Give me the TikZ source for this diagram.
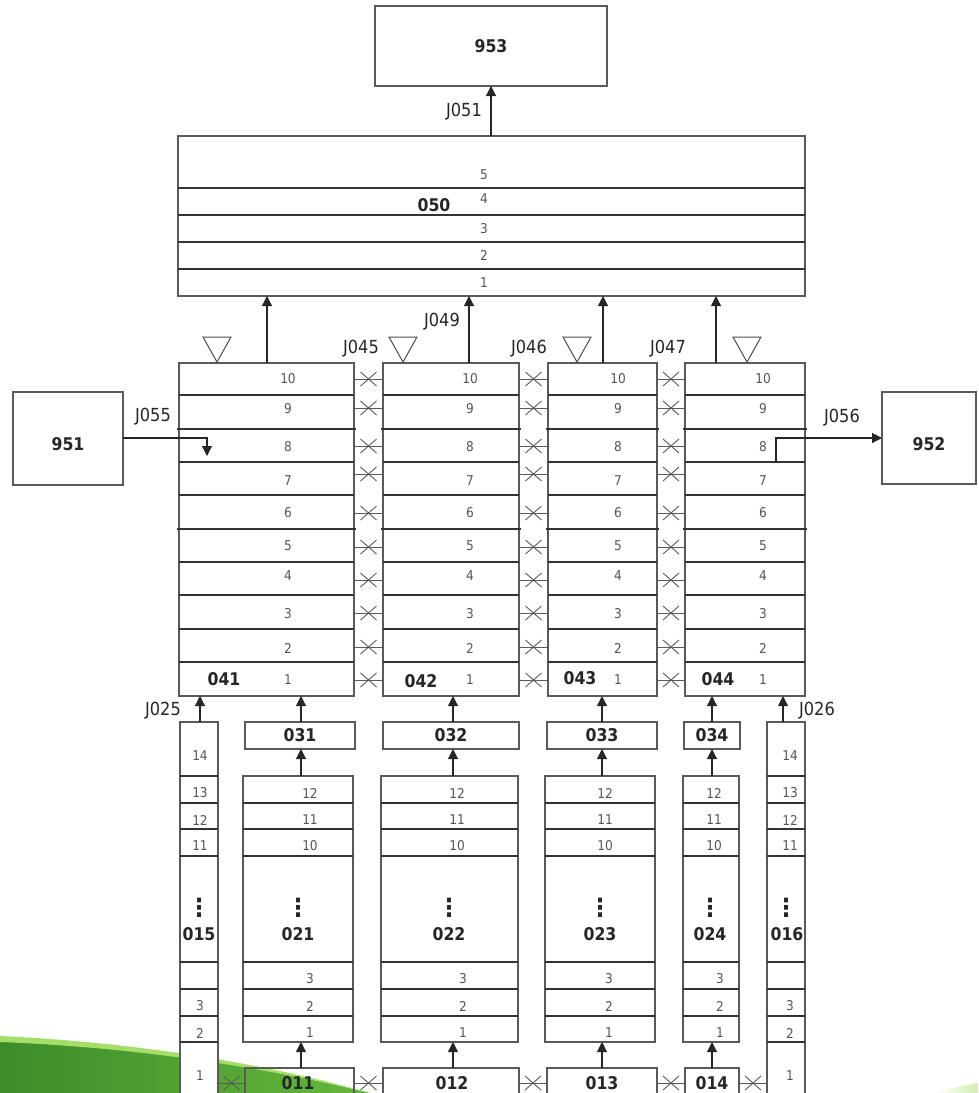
\documentclass[tikz,border=0pt]{standalone}
\usepackage{fontspec}
\setmainfont{DejaVu Sans Condensed}
\usetikzlibrary{arrows.meta}
\definecolor{lc}{HTML}{5A5A5A}
\definecolor{rc}{HTML}{333333}
\definecolor{nc}{HTML}{555555}
\definecolor{gA}{HTML}{3C8C2A}
\definecolor{gB}{HTML}{66B83A}
\definecolor{gC}{HTML}{A6DE6A}
\newcommand\mybox[6]{\node[box,#6,minimum width={(#4-#2)*1pt},minimum height={(#5-#3)*1pt}] (#1) at ({(#2+#4)/2},{(#3+#5)/2}) {};}
\newcommand\xconn[3]{\draw[xl] (#1.east |- #3) -- (#2.west |- #3) coordinate[pos=.5] (xm);
  \draw[xl] ([shift={(-8,-7)}]xm) -- ([shift={(8,7)}]xm) ([shift={(-8,7)}]xm) -- ([shift={(8,-7)}]xm);}
\begin{document}
\begin{tikzpicture}[x=1pt,y=-1pt,
 box/.style={draw=lc,line width=1.5pt,fill=white,inner sep=0pt,outer sep=0pt},
 rowl/.style={draw=rc,line width=1.3pt},
 arr/.style={draw=black!85,line width=1.1pt,-{Triangle[length=10pt,width=10pt]}},
 xl/.style={draw=lc,line width=0.9pt},
 tri/.style={draw=black!70,line width=1pt},
 num/.style={font=\fontsize{13.5}{13.5}\selectfont,text=nc,inner sep=0pt},
 nm/.style={font=\fontsize{17.5}{17.5}\selectfont\bfseries,text=black!85,inner sep=0pt},
 jl/.style={font=\fontsize{18}{18}\selectfont,text=black!85,inner sep=0pt},
 vd/.style={font=\fontsize{25}{25}\selectfont\bfseries,text=black!85,inner sep=0pt}]
\clip (0,0) rectangle (978,1093);
\fill[white] (0,0) rectangle (978,1093);
% green swoosh
\shade[left color=gA,right color=gB] (0,1040) .. controls (130,1046) and (260,1066) .. (370,1093) -- (0,1093) -- cycle;
\fill[gC] (0,1036) .. controls (130,1042) and (260,1062) .. (370,1093) .. controls (260,1066) and (130,1047) .. (0,1042) -- cycle;
\shade[left color=white,right color=gC!50] (935,1093) .. controls (955,1087) and (968,1084) .. (978,1083) -- (978,1093) -- cycle;

% boxes
\mybox{b953}{375}{6}{607}{86}{}
\node[nm] at (b953.center) {953};
\mybox{b050}{178}{136}{805}{296}{}
\mybox{b951}{13}{392}{123}{485}{}
\node[nm] at ([yshift=-6pt]b951.center) {951};
\mybox{b952}{882}{392}{976}{484}{}
\node[nm] at ([yshift=-6pt]b952.center) {952};
\mybox{b041}{179}{363}{354}{696}{}
\mybox{b042}{383}{363}{519}{696}{}
\mybox{b043}{548}{363}{657}{696}{}
\mybox{b044}{685}{363}{805}{696}{}
\mybox{b015}{180}{722}{218}{1110}{}
\mybox{b016}{767}{722}{805}{1110}{}
\mybox{b031}{245}{722}{355}{749}{}
\mybox{b032}{383}{722}{519}{749}{}
\mybox{b033}{547}{722}{657}{749}{}
\mybox{b034}{684}{722}{740}{749}{}
\mybox{b021}{243}{776}{353}{1042}{}
\mybox{b022}{381}{776}{518}{1042}{}
\mybox{b023}{545}{776}{655}{1042}{}
\mybox{b024}{683}{776}{739}{1042}{}
\mybox{b011}{245}{1068}{354}{1110}{fill=none}
\mybox{b012}{383}{1068}{519}{1110}{}
\mybox{b013}{547}{1068}{657}{1110}{}
\mybox{b014}{685}{1068}{739}{1110}{}

% 050 rows
\foreach \y in {188,215,242,269} \draw[rowl] (178,\y) -- (805,\y);
\foreach \t/\y in {5/175,4/199,3/229,2/255,1/283} \node[num] at (484,\y) {\t};
\node[nm] at (434,205) {050};

% 041-044 rows
\foreach \xa/\xb in {179/354,383/519,548/657,685/805}{
  \foreach \y in {395,462,495,562,595,629,662} \draw[rowl] (\xa,\y) -- (\xb,\y);
  \foreach \y in {429,529} \draw[rowl] (\xa-2,\y) -- (\xb+2,\y);
}
\foreach \xx in {288,470,618,763}{
  \foreach \t/\y in {10/379,9/409,8/447,7/481,6/513,5/546,4/576,3/614,2/648,1/680}
    \node[num] at (\xx,\y) {\t};
}
\node[nm] at (224,679) {041};
\node[nm] at (421,681) {042};
\node[nm] at (580,678) {043};
\node[nm] at (718,679) {044};

% cross connectors between 041-044
\foreach \i/\y in {1/379,2/408,3/446,4/474,5/513,6/547,7/580,8/613,9/647,10/680} \coordinate (r\i) at (0,\y);
\foreach \i in {1,...,10}{
  \xconn{b041}{b042}{r\i}
  \xconn{b042}{b043}{r\i}
  \xconn{b043}{b044}{r\i}
}

% triangles
\foreach \cx in {217,403,577,747} \draw[tri] (\cx-14,337) -- (\cx+14,337) -- (\cx,362) -- cycle;

% arrows into 050 and 953
\foreach \n/\xx in {1/267,2/469,3/603,4/716} \coordinate (ax\n) at (\xx,0);
\draw[arr] (b041.north -| ax1) -- (b050.south -| ax1);
\draw[arr] (b042.north -| ax2) -- (b050.south -| ax2);
\draw[arr] (b043.north -| ax3) -- (b050.south -| ax3);
\draw[arr] (b044.north -| ax4) -- (b050.south -| ax4);
\draw[arr] (b050.north -| b953.south) -- (b953.south);

% J055 / J056
\coordinate (c438) at (0,438);
\coordinate (t055) at (207,456);
\coordinate (s056) at (776,462);
\draw[arr] (b951.east |- c438) -| (t055);
\draw[arr] (s056) |- (b952.west |- c438);

% J labels
\node[jl] at (464,112) {J051};
\node[jl] at (442,322) {J049};
\node[jl] at (361,349) {J045};
\node[jl] at (529,349) {J046};
\node[jl] at (668,349) {J047};
\node[jl] at (153,417) {J055};
\node[jl] at (842,418) {J056};
\node[jl] at (163,711) {J025};
\node[jl] at (817,711) {J026};

% bottom columns 015 / 016 rows
\foreach \xa/\xb in {180/218,767/805}{
  \foreach \y in {776,803,829,856,962,989,1016,1042} \draw[rowl] (\xa,\y) -- (\xb,\y);
}
\foreach \xx in {200,790}{
  \foreach \t/\y in {14/756,13/793,12/820,11/846,3/1006,2/1033,1/1076}
    \node[num] at (\xx,\y) {\t};
}
\node[vd] at (199,908) {⋮};
\node[nm] at (199,934) {015};
\node[vd] at (786,908) {⋮};
\node[nm] at (787,934) {016};

% 021-024 rows
\foreach \xa/\xb in {243/353,381/518,545/655,683/739}{
  \foreach \y in {803,829,856,962,989,1016} \draw[rowl] (\xa,\y) -- (\xb,\y);
}
\foreach \xa/\xb in {310/310,457/463,605/609,714/720}{
  \foreach \t/\y in {12/793,11/820,10/846} \node[num] at (\xa,\y) {\t};
  \foreach \t/\y in {3/979,2/1006,1/1033} \node[num] at (\xb,\y) {\t};
}
\foreach \n/\xx in {021/298,022/449,023/600,024/710}{
  \node[vd] at (\xx,908) {⋮};
  \node[nm] at (\xx,934) {\n};
}

% 03x and 01x labels
\node[nm] at (b031.center) {031};
\node[nm] at (b032.center) {032};
\node[nm] at (b033.center) {033};
\node[nm] at (b034.center) {034};
\node[nm] at (298,1083) {011};
\node[nm] at (452,1083) {012};
\node[nm] at (602,1083) {013};
\node[nm] at (712,1083) {014};

% bottom crosses
\coordinate (rb) at (0,1083);
\xconn{b015}{b011}{rb}
\xconn{b011}{b012}{rb}
\xconn{b012}{b013}{rb}
\xconn{b013}{b014}{rb}
\xconn{b014}{b016}{rb}

% vertical arrows in bottom part
\foreach \n/\xx in {1/301,2/453,3/602,4/712} \coordinate (k\n) at (\xx,0);
\coordinate (k0) at (200,0);
\coordinate (k5) at (783,0);
\draw[arr] (b015.north -| k0) -- (b041.south -| k0);
\draw[arr] (b016.north -| k5) -- (b044.south -| k5);
\draw[arr] (b031.north -| k1) -- (b041.south -| k1);
\draw[arr] (b032.north -| k2) -- (b042.south -| k2);
\draw[arr] (b033.north -| k3) -- (b043.south -| k3);
\draw[arr] (b034.north -| k4) -- (b044.south -| k4);
\draw[arr] (b021.north -| k1) -- (b031.south -| k1);
\draw[arr] (b022.north -| k2) -- (b032.south -| k2);
\draw[arr] (b023.north -| k3) -- (b033.south -| k3);
\draw[arr] (b024.north -| k4) -- (b034.south -| k4);
\draw[arr] (b011.north -| k1) -- (b021.south -| k1);
\draw[arr] (b012.north -| k2) -- (b022.south -| k2);
\draw[arr] (b013.north -| k3) -- (b023.south -| k3);
\draw[arr] (b014.north -| k4) -- (b024.south -| k4);
\end{tikzpicture}
\end{document}
